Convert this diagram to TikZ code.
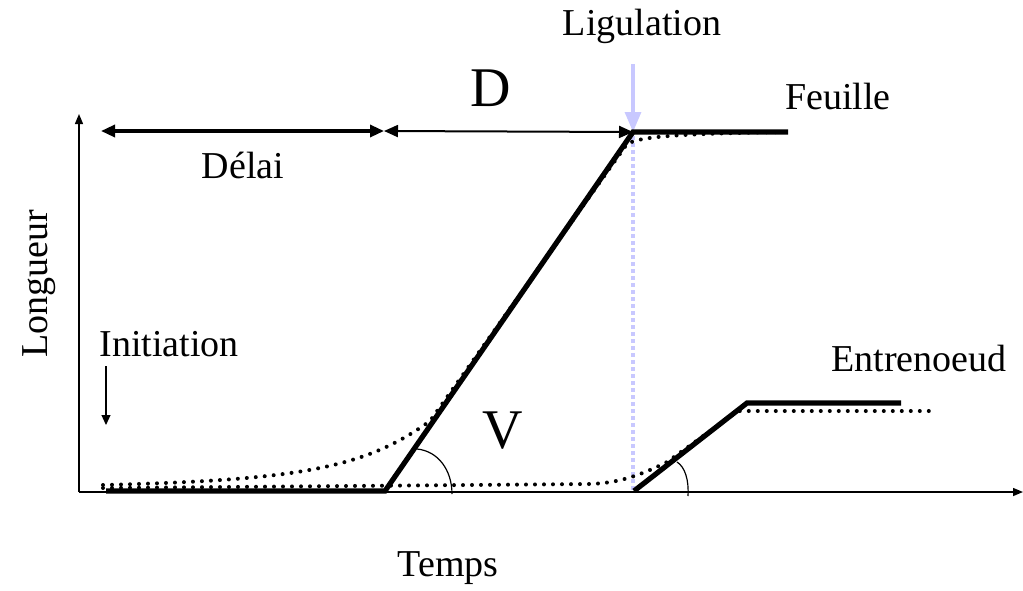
\documentclass[tikz,border=0pt]{standalone}
\usepackage{fontspec}
\setmainfont{Liberation Serif}
\usepackage{tikz}
\usetikzlibrary{arrows.meta}
\definecolor{ligcolor}{RGB}{200,200,255}

\begin{document}
\begin{tikzpicture}[
    x=0.5pt, y=-0.5pt,
    lbl/.style={inner sep=0pt, font=\fontsize{19}{22}\selectfont},
    biglbl/.style={inner sep=0pt, font=\fontsize{28}{32}\selectfont},
    axis/.style={-{Triangle[length=5pt, width=4pt]}, line width=0.7pt},
    dimarrow/.style={{Triangle[length=7pt, width=6pt]}-{Triangle[length=7pt, width=6pt]}},
    thickline/.style={line width=2.6pt, line join=miter},
    dotline/.style={line width=2pt, line cap=round, dash pattern=on 0pt off 4.5pt},
    anglearc/.style={line width=0.6pt}
]
\useasboundingbox (0,0) rectangle (1023,590);

% axes
\coordinate (origin) at (79,492);
\coordinate (ytop) at (79,114);
\coordinate (xend) at (1023,492);
\draw[axis] (origin) -- (ytop);
\draw[axis] (origin) -- (xend);

% key points of the curves
\coordinate (start) at (106,491);
\coordinate (initend) at (385,491);
\coordinate (ligpt) at (633,132);
\coordinate (feuend) at (788,132);
\coordinate (entstart) at (634,491);
\coordinate (entcorner) at (747,403);
\coordinate (entend) at (901,403);

% duration arrows
\coordinate (delaistart) at (101,131);
\coordinate (delaiend) at (384,131);
\draw[dimarrow, line width=1.6pt] (delaistart) -- (delaiend);
\draw[dimarrow, line width=1pt] (delaiend) -- (ligpt);

% ligulation
\coordinate (ligtop) at (633,64);
\coordinate (ligfoot) at (633,490);
\draw[ligcolor, line width=1.9pt, dash pattern=on 2pt off 1.5pt] (ligpt) ++(0,4) -- (ligfoot);
\draw[ligcolor, line width=1.6pt, -{Triangle[length=10pt, width=8pt]}] (ligtop) -- (ligpt);

% initiation
\coordinate (initop) at (106,366);
\coordinate (initbot) at (106,425);
\draw[line width=0.6pt, -{Triangle[length=5pt, width=4.5pt]}] (initop) -- (initbot);

% observed (dotted)
\draw[dotline] (103,485) .. controls (300,480) and (365,468) .. (430,421) -- (627,144)
    .. controls (640,137) and (670,134) .. (782,132);
\draw[dotline] (103,488) -- (590,484) .. controls (615,483) and (635,478) .. (667,462)
    -- (738,411) -- (932,411);

% model (thick)
\draw[thickline] (start) -- (initend) -- (ligpt) -- (feuend);
\draw[thickline] (entstart) -- (entcorner) -- (entend);

% angles
\draw[anglearc] (417,449) .. controls (438,451) and (452,470) .. (452,494);
\draw[anglearc] (677,462) .. controls (685,467) and (689,480) .. (688,496);

% labels
\node[lbl, anchor=base] (ligul) at (642,35) {Ligulation};
\node[biglbl, anchor=base] (dlab) at (491,106) {D};
\node[lbl, anchor=base] (feuille) at (838,109) {Feuille};
\node[lbl, anchor=base] (delai) at (243,178) {Délai};
\node[lbl, anchor=base, rotate=90] (longueur) at (47,284) {Longueur};
\node[lbl, anchor=base] (initiation) at (169,356) {Initiation};
\node[lbl, anchor=base] (entrenoeud) at (919,371) {Entrenoeud};
\node[biglbl, anchor=base] (vlab) at (503,448) {V};
\node[lbl, anchor=base] (temps) at (448,576) {Temps};

\end{tikzpicture}
\end{document}
